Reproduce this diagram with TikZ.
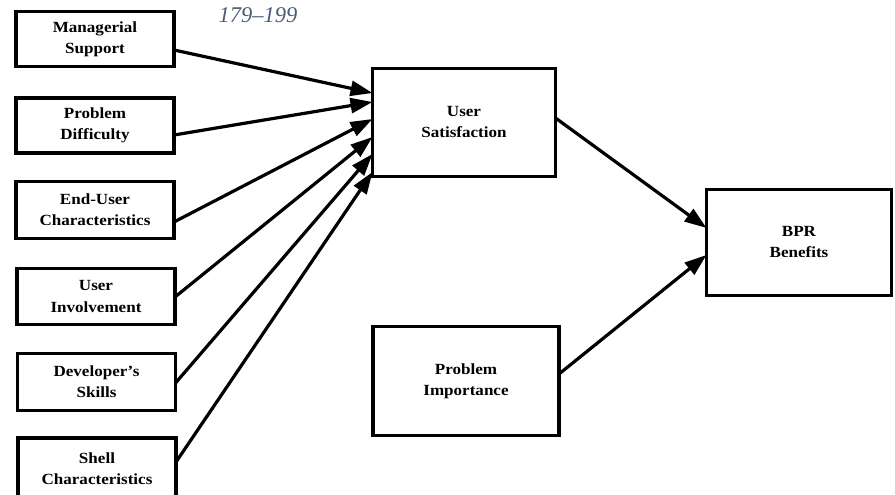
\documentclass[tikz,border=0pt]{standalone}
\usepackage{fontspec}
\setmainfont{Liberation Serif}
\usetikzlibrary{arrows.meta}
\definecolor{pagenum}{RGB}{74,91,118}
\newfontfamily\boxfont[FakeStretch=1.1]{Liberation Serif}
\begin{document}
\begin{tikzpicture}[x=1pt,y=-1pt,
  factor/.style={draw, line width=3.2pt, inner sep=0pt, outer sep=0pt,
    minimum width=#1, align=center,
    font=\boxfont\fontsize{15.5}{21}\selectfont\bfseries},
  factor/.default=158pt,
  link/.style={line width=3.2pt, -{Triangle[length=22pt,width=15pt]}}]
\useasboundingbox (0,0) rectangle (895,495);
\clip (0,0) rectangle (895,495);

% page range printed at the top
\node[anchor=base, text=pagenum, font=\fontsize{22.5}{26}\selectfont\itshape]
  (pages) at (258,23) {179--199};

% antecedent factors
\node[factor, minimum height=55pt] (ms) at (95,39)    {Managerial\\Support};
\node[factor, minimum height=55pt] (pd) at (95,125.5) {Problem\\Difficulty};
\node[factor, minimum height=57pt] (eu) at (95,210)   {End-User\\Characteristics};
\node[factor, minimum height=56pt] (ui) at (96,296.5) {User\\Involvement};
\node[factor, minimum height=57pt] (ds) at (96.5,382) {Developer’s\\Skills};
\node[factor, minimum height=120pt] (sc) at (97,498)  {};
\node[align=center, font=\boxfont\fontsize{15.5}{21}\selectfont\bfseries]
  (sct) at (97,469) {Shell\\Characteristics};

% central constructs
\node[factor=183pt, minimum height=108pt] (us)  at (464,122.5) {User\\Satisfaction};
\node[factor=185pt, minimum height=106pt] (bpr) at (799,242.5) {BPR\\Benefits};
\node[factor=186pt, minimum height=109pt] (pi)  at (466,381)   {Problem\\Importance};

% paths into user satisfaction
\draw[link] (ms.east |- 0,50)  -- (us.west |- 0,93);
\draw[link] (pd.east |- 0,135) -- (us.west |- 0,102);
\draw[link] (eu.east |- 0,222) -- (us.west |- 0,119);
\draw[link] (ui.east |- 0,297) -- (us.west |- 0,137);
\draw[link] (ds.east |- 0,383) -- (us.west |- 0,154);
\draw[link] (sc.east |- 0,462) -- (us.west |- 0,172);

% paths into BPR benefits
\draw[link] (us.east |- 0,118) -- (bpr.west |- 0,228);
\draw[link] (pi.east |- 0,374) -- (bpr.west |- 0,255);
\end{tikzpicture}
\end{document}
